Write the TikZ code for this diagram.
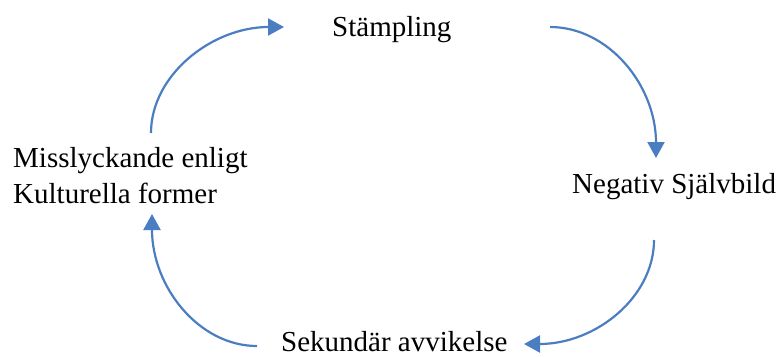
\documentclass[tikz,border=0pt]{standalone}
\usepackage{fontspec}
\setmainfont{Liberation Serif}
\usetikzlibrary{arrows.meta}
\definecolor{arrowblue}{RGB}{74,126,193}
\begin{document}
\begin{tikzpicture}[x=1pt,y=-1pt,
  label/.style={inner sep=0pt,anchor=base west,font=\fontsize{29}{36}\selectfont,text=black},
  flow/.style={draw=arrowblue,line width=2.2pt,-{Triangle[length=16pt,width=17pt]}}]
\useasboundingbox (0,0) rectangle (781,356);
\node[label] (stamp) at (332,36) {Stämpling};
\node[label] (neg) at (572,193) {Negativ Självbild};
\node[label] (sek) at (281,351) {Sekundär avvikelse};
\node[label,align=left] (miss) at (13,203) {Misslyckande enligt\\Kulturella former};
\coordinate (a1s) at (151,133);
\coordinate (a1e) at (284,27);
\coordinate (a2s) at (550,27);
\coordinate (a2e) at (656,158);
\coordinate (a3s) at (654,240);
\coordinate (a3e) at (524,344);
\coordinate (a4s) at (257,346);
\coordinate (a4e) at (152,214);
\draw[flow] (a1s) .. controls (151,75) and (212,27) .. (a1e);
\draw[flow] (a2s) .. controls (609,27) and (656,86) .. (a2e);
\draw[flow] (a3s) .. controls (654,297) and (596,344) .. (a3e);
\draw[flow] (a4s) .. controls (199,346) and (152,287) .. (a4e);
\end{tikzpicture}
\end{document}
